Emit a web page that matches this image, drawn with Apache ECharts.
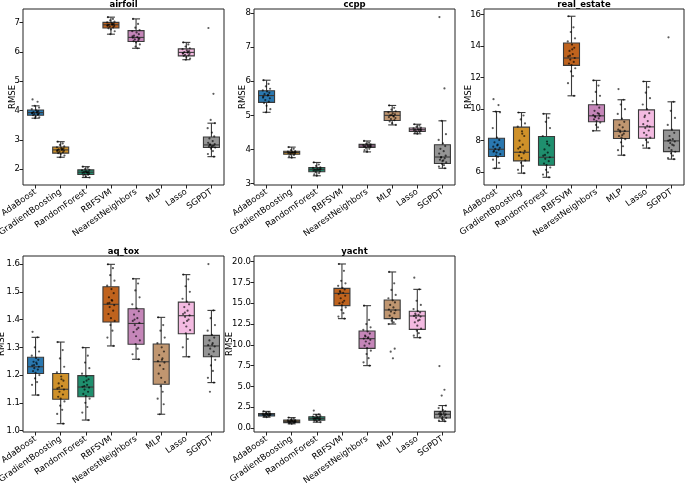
<!DOCTYPE html>
<html><head><meta charset="utf-8">
<script src="https://cdn.jsdelivr.net/npm/echarts@6/dist/echarts.min.js"></script>
<style>html,body{margin:0;padding:0;background:#fff}#c{width:685px;height:483px}</style>
</head><body><div id="c"></div>
<script>
const categories = ['AdaBoost','GradientBoosting','RandomForest','RBFSVM','NearestNeighbors','MLP','Lasso','SGPDT'];
const palette = ['#2a78b0','#cf912a','#1f8f6e','#bf631e','#c586b9','#c09670','#f3bae1','#959595'];

// box stats per category: [lower whisker, Q1, median, Q3, upper whisker]; null = no result
const airfoilBox = [[3.74,3.84,3.93,4.02,4.16],[2.41,2.55,2.66,2.76,2.94],[1.72,1.82,1.90,1.98,2.09],[6.60,6.81,6.92,7.00,7.18],[6.12,6.35,6.49,6.72,7.12],null,[5.73,5.86,5.98,6.10,6.32],[2.43,2.74,2.83,3.10,3.57]];
const airfoilPts = [
 [4.38,4.30,4.16,4.10,4.05,4.01,3.98,3.95,3.93,3.92,3.90,3.88,3.86,3.84,3.80,3.77,3.74,3.96,3.91,3.87],
 [2.94,2.88,2.83,2.78,2.75,2.72,2.70,2.68,2.66,2.65,2.63,2.60,2.58,2.55,2.52,2.47,2.41,2.69,2.62],
 [2.09,2.05,2.01,1.98,1.96,1.93,1.91,1.90,1.89,1.87,1.85,1.83,1.81,1.78,1.75,1.72,1.92,1.88],
 [7.18,7.12,7.07,7.03,7.00,6.98,6.95,6.93,6.92,6.90,6.88,6.86,6.83,6.80,6.76,6.70,6.60,6.94,6.89],
 [7.12,6.95,6.82,6.74,6.70,6.66,6.60,6.55,6.50,6.48,6.45,6.42,6.38,6.36,6.32,6.25,6.18,6.12,6.53,6.44],
 [],
 [6.32,6.25,6.18,6.12,6.09,6.05,6.02,5.99,5.97,5.95,5.93,5.90,5.88,5.86,5.82,5.77,5.73,6.00,5.94],
 [6.81,4.57,3.68,3.57,3.40,3.25,3.12,3.05,2.96,2.90,2.86,2.83,2.80,2.78,2.76,2.74,2.70,2.62,2.52,2.43,2.85,2.79]
];
const airfoilTicks = [2,3,4,5,6,7];

const ccppBox = [[5.09,5.38,5.58,5.72,6.03],[3.76,3.86,3.91,3.95,4.07],[3.23,3.35,3.41,3.47,3.62],null,[3.93,4.06,4.10,4.15,4.25],[4.72,4.85,5.00,5.11,5.29],[4.46,4.53,4.58,4.63,4.74],[3.45,3.59,3.78,4.14,4.84]];
const ccppPts = [
 [6.03,5.92,5.85,5.78,5.73,5.70,5.66,5.62,5.58,5.55,5.50,5.45,5.40,5.36,5.28,5.18,5.09,5.60,5.52],
 [4.07,4.02,3.98,3.95,3.94,3.93,3.92,3.91,3.90,3.89,3.88,3.86,3.84,3.80,3.76,3.92,3.90],
 [3.62,3.56,3.52,3.48,3.46,3.44,3.42,3.41,3.40,3.38,3.36,3.34,3.31,3.27,3.23,3.43,3.39],
 [],
 [4.25,4.20,4.17,4.15,4.13,4.12,4.11,4.10,4.09,4.08,4.07,4.05,4.02,3.98,3.93,4.10],
 [5.29,5.22,5.17,5.12,5.09,5.06,5.03,5.00,4.98,4.95,4.92,4.89,4.86,4.82,4.77,4.72,5.01,4.97],
 [4.74,4.70,4.67,4.64,4.62,4.60,4.59,4.58,4.57,4.56,4.55,4.53,4.51,4.48,4.46,4.58],
 [7.88,5.79,4.84,4.45,4.28,4.18,4.10,4.02,3.95,3.88,3.82,3.78,3.74,3.70,3.66,3.62,3.58,3.54,3.50,3.45,3.76,3.68]
];
const ccppTicks = [3,4,5,6,7,8];

const realEstateBox = [[6.25,7.00,7.46,8.16,9.85],[5.94,6.72,7.27,8.86,9.79],[5.68,6.44,6.95,8.27,9.71],[10.85,12.78,13.25,14.20,15.90],[8.63,9.20,9.58,10.28,11.83],[7.08,8.14,8.60,9.33,10.60],[7.53,8.16,8.88,9.96,11.76],[6.83,7.31,7.99,8.67,10.47]];
const realEstatePts = [
 [10.64,10.26,9.85,9.80,8.80,8.20,8.05,7.90,7.75,7.62,7.55,7.48,7.42,7.35,7.25,7.15,7.05,6.98,6.80,6.60,6.25,7.70,7.30],
 [9.79,9.60,9.35,9.10,8.90,8.60,8.30,8.00,7.75,7.50,7.35,7.28,7.20,7.05,6.90,6.75,6.60,6.40,6.15,5.94,7.60,8.45],
 [9.71,9.45,9.20,8.80,8.30,7.95,7.70,7.45,7.25,7.05,6.95,6.85,6.70,6.55,6.45,6.30,6.15,6.00,5.85,5.68,7.10,7.80],
 [15.90,15.20,14.90,14.50,14.30,14.10,13.90,13.70,13.50,13.35,13.25,13.15,13.00,12.90,12.80,12.60,12.40,12.10,11.65,10.85,13.40,13.80],
 [11.83,11.50,11.10,10.85,10.50,10.30,10.10,9.90,9.75,9.62,9.58,9.50,9.42,9.35,9.25,9.15,9.00,8.85,8.63,9.70,9.55],
 [11.28,10.60,10.30,10.00,9.70,9.40,9.20,9.00,8.85,8.70,8.62,8.55,8.45,8.30,8.20,8.10,7.90,7.65,7.40,7.08,8.65,8.35],
 [11.76,11.40,11.05,10.70,10.30,10.00,9.75,9.50,9.25,9.05,8.90,8.80,8.65,8.50,8.35,8.20,8.05,7.90,7.70,7.53,9.60,8.95],
 [14.56,10.47,9.90,9.45,9.00,8.70,8.50,8.30,8.10,8.00,7.95,7.85,7.70,7.55,7.40,7.30,7.20,7.05,6.90,6.83,8.05,7.75]
];
const realEstateTicks = [6,8,10,12,14,16];

const aqToxBox = [[1.128,1.206,1.230,1.264,1.336],[1.025,1.113,1.149,1.206,1.319],[1.038,1.122,1.157,1.198,1.299],[1.305,1.391,1.455,1.518,1.599],[1.257,1.311,1.386,1.439,1.547],[1.059,1.167,1.248,1.312,1.408],[1.266,1.349,1.414,1.463,1.562],[1.173,1.266,1.305,1.343,1.433]];
const aqToxPts = [
 [1.356,1.336,1.300,1.285,1.270,1.262,1.255,1.248,1.240,1.234,1.230,1.225,1.220,1.214,1.208,1.200,1.188,1.175,1.165,1.128,1.236,1.245],
 [1.319,1.290,1.260,1.230,1.210,1.195,1.180,1.170,1.160,1.152,1.148,1.140,1.130,1.122,1.115,1.105,1.090,1.075,1.060,1.025,1.155,1.185],
 [1.299,1.270,1.245,1.225,1.205,1.195,1.185,1.175,1.165,1.158,1.155,1.148,1.140,1.132,1.125,1.115,1.100,1.085,1.065,1.038,1.160,1.180],
 [1.599,1.585,1.560,1.540,1.522,1.510,1.495,1.480,1.468,1.458,1.452,1.445,1.432,1.420,1.405,1.395,1.380,1.360,1.335,1.305,1.460,1.470],
 [1.547,1.530,1.505,1.480,1.455,1.440,1.430,1.418,1.405,1.395,1.388,1.380,1.370,1.355,1.340,1.325,1.312,1.295,1.275,1.257,1.400,1.365],
 [1.408,1.380,1.360,1.335,1.315,1.300,1.285,1.272,1.260,1.250,1.245,1.235,1.222,1.205,1.190,1.175,1.160,1.140,1.115,1.095,1.059,1.255],
 [1.562,1.545,1.520,1.500,1.475,1.465,1.455,1.445,1.432,1.420,1.415,1.410,1.400,1.388,1.375,1.362,1.350,1.330,1.300,1.266,1.425,1.395],
 [1.600,1.433,1.405,1.380,1.360,1.345,1.335,1.325,1.315,1.308,1.303,1.295,1.285,1.275,1.268,1.255,1.235,1.215,1.190,1.173,1.140,1.310]
];
const aqToxTicks = [1.0,1.1,1.2,1.3,1.4,1.5,1.6];

const yachtBox = [[1.30,1.45,1.60,1.75,2.00],[0.50,0.65,0.80,0.95,1.25],[0.70,0.95,1.15,1.35,1.65],[13.15,14.71,16.19,16.79,19.72],[7.50,9.58,10.74,11.66,14.71],[12.50,13.15,14.19,15.39,18.76],[10.86,11.86,13.47,14.03,16.67],[0.80,1.20,1.65,2.00,2.70]];
const yachtPts = [
 [2.00,1.90,1.82,1.76,1.72,1.68,1.64,1.61,1.58,1.55,1.52,1.48,1.44,1.38,1.30,1.62,1.70],
 [1.25,1.12,1.02,0.96,0.92,0.88,0.84,0.81,0.78,0.75,0.71,0.67,0.62,0.56,0.50,0.80,0.86],
 [2.10,1.65,1.55,1.45,1.38,1.32,1.26,1.20,1.15,1.10,1.05,1.00,0.95,0.88,0.80,0.70,1.18],
 [19.72,18.90,17.70,17.40,17.10,16.85,16.65,16.45,16.25,16.10,15.90,15.60,15.30,15.00,14.75,14.50,14.20,13.80,13.40,13.15,16.30,15.10],
 [14.71,13.00,12.50,12.10,11.80,11.60,11.35,11.10,10.90,10.75,10.60,10.40,10.15,9.90,9.60,9.30,8.90,8.40,7.90,7.50,11.00,10.80],
 [18.76,17.40,16.60,16.00,15.60,15.35,15.10,14.80,14.50,14.25,14.15,14.00,13.80,13.50,13.25,13.10,12.90,12.70,12.50,9.54,9.18,8.38],
 [18.08,16.67,15.30,14.80,14.30,14.05,13.90,13.75,13.60,13.48,13.40,13.25,13.00,12.70,12.30,11.95,11.70,11.40,11.10,10.86,13.55,12.90],
 [7.45,4.60,3.90,2.70,2.40,2.15,2.00,1.90,1.80,1.72,1.65,1.58,1.50,1.42,1.32,1.22,1.10,0.98,0.88,0.80,1.70]
];
const yachtTicks = [0,2.5,5,7.5,10,12.5,15,17.5,20];

// ---- layout / style constants ----
const jitter = [-0.12,0.08,-0.03,0.14,-0.15,0.02,0.11,-0.08,0.05,-0.13,0.13,-0.05,0.09,-0.10,0.0,0.15,-0.02,0.06,-0.14,0.10,-0.06,0.03];
const EDGE = '#3a3a3a';
const FONT = 'DejaVu Sans';
const panels = [
  {title:'airfoil',    box:airfoilBox,    pts:airfoilPts,    ticks:airfoilTicks,    min:1.465, max:7.457, dec:0, grid:{left:23, top:9,  width:201, height:176}, gap:6},
  {title:'ccpp',       box:ccppBox,       pts:ccppPts,       ticks:ccppTicks,       min:2.96,  max:8.116, dec:0, grid:{left:254,top:9,  width:201, height:176}, gap:7},
  {title:'real_estate',box:realEstateBox, pts:realEstatePts, ticks:realEstateTicks, min:5.19,  max:16.36, dec:0, grid:{left:484,top:9,  width:200, height:176}, gap:11},
  {title:'aq_tox',     box:aqToxBox,      pts:aqToxPts,      ticks:aqToxTicks,      min:0.995, max:1.629, dec:1, grid:{left:23, top:256,width:201, height:176}, gap:17},
  {title:'yacht',      box:yachtBox,      pts:yachtPts,      ticks:yachtTicks,      min:-0.48, max:20.68, dec:1, grid:{left:254,top:256,width:201, height:176}, gap:20}
];

function renderBox(params, api){
  const i = api.value(0);
  const pMin = api.coord([i, api.value(1)]);
  const pQ1  = api.coord([i, api.value(2)]);
  const pMed = api.coord([i, api.value(3)]);
  const pQ3  = api.coord([i, api.value(4)]);
  const pMax = api.coord([i, api.value(5)]);
  const col = palette[api.value(6)];
  const x = pMin[0], hw = 8, cw = 4;
  const ls = {stroke: EDGE, lineWidth: 1.1};
  return {type:'group', children:[
    {type:'line', shape:{x1:x,y1:pQ1[1],x2:x,y2:pMin[1]}, style:ls},
    {type:'line', shape:{x1:x,y1:pQ3[1],x2:x,y2:pMax[1]}, style:ls},
    {type:'line', shape:{x1:x-cw,y1:pMin[1],x2:x+cw,y2:pMin[1]}, style:ls},
    {type:'line', shape:{x1:x-cw,y1:pMax[1],x2:x+cw,y2:pMax[1]}, style:ls},
    {type:'rect', shape:{x:x-hw,y:pQ3[1],width:2*hw,height:pQ1[1]-pQ3[1]}, style:{fill:col, stroke:EDGE, lineWidth:1.1}},
    {type:'line', shape:{x1:x-hw,y1:pMed[1],x2:x+hw,y2:pMed[1]}, style:ls}
  ]};
}

const option = {animation:false, backgroundColor:'#fff', textStyle:{fontFamily:FONT},
  title:[], grid:[], xAxis:[], yAxis:[], series:[]};

panels.forEach((p, k) => {
  option.grid.push(Object.assign({show:true, borderColor:'#222', borderWidth:1, backgroundColor:'transparent',
    containLabel:false, outerBoundsMode:'none'}, p.grid));
  option.title.push({text:p.title, left:p.grid.left + p.grid.width/2, top:p.grid.top - 9, textAlign:'center', padding:0,
    textStyle:{fontSize:8.5, fontWeight:'bold', color:'#000', fontFamily:FONT}});
  option.xAxis.push({type:'category', gridIndex:k, data:categories, boundaryGap:true, position:'bottom',
    axisLine:{show:false, onZero:false}, splitLine:{show:false},
    axisTick:{show:true, alignWithLabel:true, length:3.5, lineStyle:{color:'#222'}},
    axisLabel:{rotate:35, fontSize:8.5, color:'#000', margin:6, interval:0, fontFamily:FONT}});
  option.xAxis.push({type:'value', gridIndex:k, min:-0.5, max:7.5, show:false, axisLine:{onZero:false}});
  option.yAxis.push({type:'value', gridIndex:k, min:p.min, max:p.max, position:'left',
    name:'RMSE', nameLocation:'middle', nameGap:p.gap, nameMoveOverlap:false,
    nameTextStyle:{fontSize:8.5, color:'#000', fontFamily:FONT},
    axisLine:{show:false, onZero:false}, splitLine:{show:false},
    axisTick:{show:true, length:3.5, lineStyle:{color:'#222'}, customValues:p.ticks},
    axisLabel:{fontSize:8.5, color:'#000', margin:3, fontFamily:FONT, customValues:p.ticks,
      formatter:(v)=> p.dec ? Number(v).toFixed(p.dec) : String(Math.round(v))}});
  const boxData = [];
  p.box.forEach((b, i) => { if (b) boxData.push([i].concat(b).concat([i])); });
  option.series.push({type:'custom', xAxisIndex:2*k, yAxisIndex:k, renderItem:renderBox, data:boxData,
    encode:{x:0, y:[1,5]}, z:2, clip:true});
  const ptData = [];
  p.pts.forEach((arr, i) => arr.forEach((v, j) => ptData.push([i + jitter[j % jitter.length], v])));
  option.series.push({type:'scatter', xAxisIndex:2*k+1, yAxisIndex:k, data:ptData, symbolSize:2.2,
    itemStyle:{color:'rgba(0,0,0,0.8)'}, z:5, silent:true});
});

const chart = echarts.init(document.getElementById('c'), null, {renderer:'canvas'});
chart.setOption(option);
</script></body></html>
